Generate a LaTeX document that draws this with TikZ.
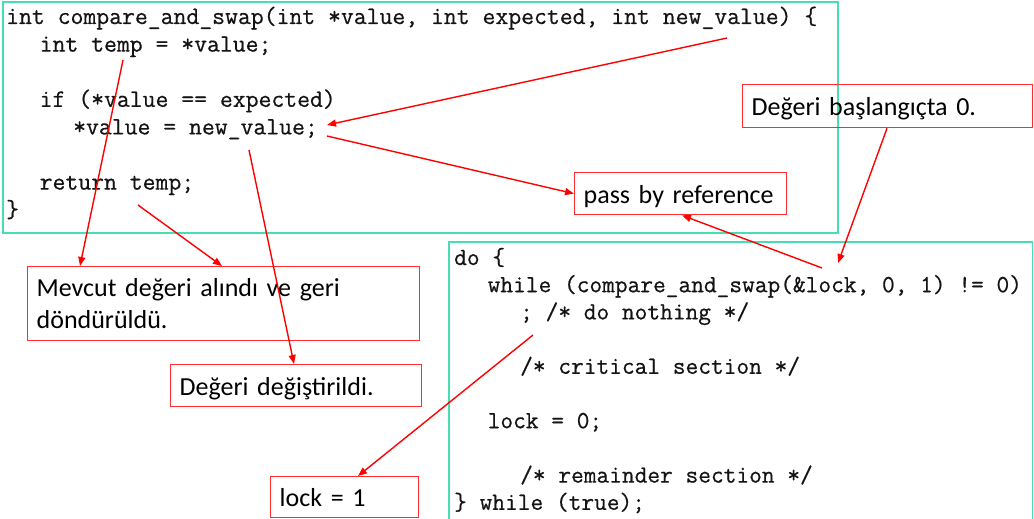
\documentclass[tikz,border=0pt]{standalone}
\usepackage{fontspec}
\setmainfont{Carlito}
\setmonofont{Latin Modern Mono}[FakeBold=0.6]
\usetikzlibrary{arrows.meta}
\definecolor{codeframe}{RGB}{72,222,180}
\definecolor{callred}{RGB}{255,45,45}
\definecolor{arrred}{RGB}{255,0,0}
\definecolor{codeink}{RGB}{20,20,20}
\begin{document}
\begin{tikzpicture}[x=1pt,y=-1pt,
  codeline/.style={anchor=base west, inner sep=0pt, text=codeink,
    font=\fontsize{25}{27.6}\selectfont\ttfamily\bfseries},
  codelow/.style={codeline, font=\fontsize{24.7}{27.2}\selectfont\ttfamily\bfseries},
  frame/.style={draw=codeframe, line width=1.3pt},
  callout/.style={draw=callred, line width=1.3pt, anchor=north west,
    inner xsep=9pt, inner ysep=0pt, align=left, text=black,
    font=\fontsize{26}{32}\selectfont},
  oneline/.style={callout, text height=19pt, text depth=0pt},
  arr/.style={draw=arrred, line width=1.4pt, -{Triangle[length=9pt,width=7pt]}}]
\useasboundingbox (0,0) rectangle (1034,519);
\clip (0,0) rectangle (1034,519);
\fill[white] (0,0) rectangle (1034,519);

% code frames
\draw[frame] (3,2) rectangle (838,233);
\draw[frame] (449,242) rectangle (1032.5,530);

% upper code
\node[codeline] (u1) at (6,24) {int compare\_and\_swap(int *value, int expected, int new\_value) \{};
\node[codeline] (u2) at (39.5,51.6) {int temp = *value;};
\node[codeline] (u3) at (39.5,106.8) {if (*value == expected)};
\node[codeline] (u4) at (73,134.4) {*value = new\_value;};
\node[codeline] (u5) at (39.5,189.6) {return temp;};
\node[codeline] (u6) at (6,217.2) {\}};

% lower code
\node[codelow] (l1) at (454,265) {do \{};
\node[codelow] (l2) at (487.5,292.2) {while (compare\_and\_swap(\&lock, 0, 1) != 0)};
\node[codelow] (l3) at (520,319.4) {; /* do nothing */};
\node[codelow] (l4) at (520,373.8) {/* critical section */};
\node[codelow] (l5) at (487.5,428.2) {lock = 0;};
\node[codelow] (l6) at (520,482.6) {/* remainder section */};
\node[codelow] (l7) at (454,509.8) {\} while (true);};

% callouts
\node[oneline, text width=272pt, minimum height=43pt] (basl) at (742,84) {Değeri başlangıçta 0.};
\node[oneline, text width=194pt, minimum height=42pt] (pass) at (574,172) {pass by reference};
\node[callout, text width=374pt, minimum height=74pt] (mevcut) at (27,266) {Mevcut değeri alındı ve geri\\döndürüldü.};
\node[oneline, text width=233pt, minimum height=42pt] (degis) at (170,364) {Değeri değiştirildi.};
\node[oneline, text width=130pt, minimum height=41pt] (lockone) at (270,476) {lock = 1};

% free ends
\coordinate (tempc) at (123,60);
\coordinate (retc) at (138,205);
\coordinate (newvc) at (249,150);
\coordinate (parnv) at (727,38);
\coordinate (semi) at (327,125);
\coordinate (semib) at (327,136);
\coordinate (lockc) at (822,268);
\coordinate (lockh) at (838,263);
\coordinate (nothc) at (533,335);

% arrows
\draw[arr] (tempc) -- ([xshift=53pt]mevcut.north west);
\draw[arr] (retc) -- ([xshift=195pt]mevcut.north west);
\draw[arr] (newvc) -- ([xshift=124pt]degis.north west);
\draw[arr] (parnv) -- (semi);
\draw[arr] (semib) -- (pass.west);
\draw[arr] (lockc) -- ([xshift=108pt]pass.south west);
\draw[arr] ([xshift=145pt]basl.south west) -- (lockh);
\draw[arr] (nothc) -- ([xshift=88pt]lockone.north west);
\end{tikzpicture}
\end{document}
